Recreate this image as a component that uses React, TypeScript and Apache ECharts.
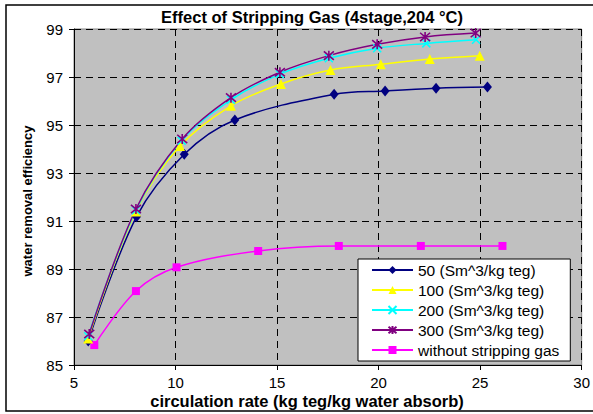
import React, { useEffect, useRef } from "react";
import * as echarts from "echarts";

const seriesNames = [
  "50 (Sm^3/kg teg)",
  "100 (Sm^3/kg teg)",
  "200 (Sm^3/kg teg)",
  "300 (Sm^3/kg teg)",
  "without stripping gas",
];

const x50 = [5.7, 8.08, 10.43, 12.92, 17.81, 20.32, 22.83, 25.36];
const y50 = [86.0, 91.18, 93.78, 95.21, 96.28, 96.42, 96.53, 96.58];

const x100 = [5.7, 8.05, 10.22, 12.73, 15.19, 17.63, 20.11, 22.52, 24.98];
const y100 = [86.1, 91.4, 94.12, 95.8, 96.71, 97.29, 97.53, 97.75, 97.89];

const x200 = [5.7, 8.05, 10.3, 12.73, 15.14, 17.55, 19.93, 22.35, 24.8];
const y200 = [86.2, 91.45, 94.35, 96.05, 97.12, 97.78, 98.2, 98.4, 98.55];

const x300 = [5.75, 8.05, 10.33, 12.73, 15.14, 17.55, 19.93, 22.29, 24.78];
const y300 = [86.29, 91.5, 94.42, 96.14, 97.2, 97.89, 98.36, 98.67, 98.83];

const xNo = [6.0, 8.05, 10.05, 14.07, 18.04, 22.08, 26.1];
const yNo = [85.83, 88.08, 89.07, 89.75, 89.96, 89.96, 89.96];

const xTicks = { min: 5, max: 30, step: 5 };
const yTicks = { min: 85, max: 99, step: 2 };

const FONT = "'Liberation Sans', Arial, sans-serif";

function pairs(xs: number[], ys: number[]) {
  return xs.map((x, i) => [x, ys[i]]);
}

export default function App() {
  const ref = useRef<HTMLDivElement>(null);
  useEffect(() => {
    if (!ref.current) return;
    const chart = echarts.init(ref.current, undefined, { renderer: "svg" });
    const mk = (
      name: string,
      data: number[][],
      color: string,
      symbol: string,
      size: number | number[],
      stroke?: boolean
    ) => ({
      type: "line",
      name,
      data,
      smooth: 0.35,
      symbol,
      symbolSize: size,
      showSymbol: true,
      lineStyle: { color, width: 1.5 },
      itemStyle: stroke
        ? { color, borderColor: color, borderWidth: 1.6 }
        : { color, borderWidth: 0 },
      z: 3,
    });
    chart.setOption({
      animation: false,
      backgroundColor: "#ffffff",
      textStyle: { fontFamily: FONT },
      grid: {
        left: 74,
        top: 29,
        width: 508,
        height: 336,
        show: true,
        backgroundColor: "#C0C0C0",
        borderColor: "#808080",
        borderWidth: 1,
      },
      xAxis: {
        type: "value",
        min: xTicks.min,
        max: xTicks.max,
        interval: xTicks.step,
        axisLine: { show: true, lineStyle: { color: "#000", width: 1 } },
        axisTick: { show: true, length: 5, lineStyle: { color: "#000" } },
        axisLabel: { color: "#000", fontSize: 15, margin: 10, fontFamily: FONT },
        splitLine: {
          show: true,
          lineStyle: { color: "#000", type: [7, 5], width: 1 },
        },
      },
      yAxis: {
        type: "value",
        min: yTicks.min,
        max: yTicks.max,
        interval: yTicks.step,
        axisLine: { show: true, lineStyle: { color: "#000", width: 1 } },
        axisTick: { show: true, length: 5, lineStyle: { color: "#000" } },
        axisLabel: { color: "#000", fontSize: 15, margin: 11, fontFamily: FONT },
        splitLine: {
          show: true,
          lineStyle: { color: "#000", type: [7, 5], width: 1 },
        },
      },
      legend: {
        orient: "vertical",
        left: 358,
        top: 259,
        data: seriesNames,
        backgroundColor: "#ffffff",
        borderColor: "#000",
        borderWidth: 1,
        borderRadius: 0,
        padding: [3, 11, 3, 13],
        itemWidth: 41,
        itemHeight: 10,
        itemGap: 4,
        textStyle: { fontSize: 15.5, color: "#000", fontFamily: FONT, lineHeight: 16 },
      },
      graphic: [
        {
          type: "rect",
          shape: { x: 6, y: 5, width: 620, height: 406 },
          style: { fill: "none", stroke: "#000", lineWidth: 1.5 },
          z: 100,
        },
        {
          type: "text",
          x: 312,
          y: 17,
          style: {
            text: "Effect of Stripping Gas (4stage,204 °C)",
            font: `bold 16.5px ${FONT}`,
            fill: "#000",
            textAlign: "center",
            textVerticalAlign: "middle",
          },
        },
        {
          type: "text",
          x: 307,
          y: 401,
          style: {
            text: "circulation rate (kg teg/kg water absorb)",
            font: `bold 16.5px ${FONT}`,
            fill: "#000",
            textAlign: "center",
            textVerticalAlign: "middle",
          },
        },
        {
          type: "text",
          x: 27,
          y: 201,
          rotation: Math.PI / 2,
          style: {
            text: "water removal efficiency",
            font: `bold 13px ${FONT}`,
            fill: "#000",
            textAlign: "center",
            textVerticalAlign: "middle",
          },
        },
      ],
      series: [
        mk(seriesNames[4], pairs(xNo, yNo), "#FF00FF", "rect", 8),
        mk(seriesNames[0], pairs(x50, y50), "#000080", "diamond", [9, 11]),
        mk(seriesNames[1], pairs(x100, y100), "#FFFF00", "triangle", 10),
        mk(
          seriesNames[2],
          pairs(x200, y200),
          "#00FFFF",
          "path://M0,0L10,10M10,0L0,10",
          8,
          true
        ),
        mk(
          seriesNames[3],
          pairs(x300, y300),
          "#800080",
          "path://M0,0L10,10M10,0L0,10M5,-1L5,11",
          10,
          true
        ),
      ],
    });
    return () => chart.dispose();
  }, []);
  return (
    <div
      ref={ref}
      style={{ position: "absolute", left: 0, top: 0, width: 593, height: 414 }}
    />
  );
}
